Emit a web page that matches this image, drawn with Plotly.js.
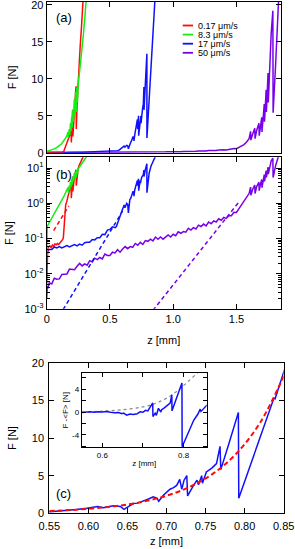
<!DOCTYPE html>
<html>
<head>
<meta charset="utf-8">
<script src="https://cdn.plot.ly/plotly-3.0.1.min.js"></script>
<style>
html,body{margin:0;padding:0;background:#fff;}
#chart{width:295px;height:549px;}
</style>
</head>
<body>
<div id="chart"></div>
<script>
// ---------------- DATA ----------------
const speedLabels = ['0.17 μm/s', '8.3 μm/s', '17 μm/s', '50 μm/s'];

// 0.17 um/s (red)
const redZ = [0, 0.002, 0.004, 0.008, 0.015, 0.025, 0.035, 0.045, 0.055, 0.065, 0.075, 0.085, 0.095, 0.105, 0.115, 0.122, 0.128, 0.132, 0.136, 0.14, 0.145, 0.15, 0.158, 0.165, 0.172, 0.18, 0.185, 0.192, 0.195, 0.2, 0.205, 0.207, 0.213, 0.22, 0.226, 0.232, 0.234, 0.24, 0.248, 0.256, 0.265, 0.275, 0.285, 0.292];
const redF = [0.005, 0.02, 0.04, 0.05, 0.058, 0.062, 0.055, 0.065, 0.06, 0.07, 0.066, 0.072, 0.068, 0.075, 0.08, 0.085, 0.095, 0.11, 0.2, 0.45, 0.7, 0.9, 1.1, 1.4, 1.8, 2.2, 2.5, 3.5, 1.4, 4.0, 5.8, 2.2, 4.5, 6.0, 7.5, 9.0, 3.2, 6.5, 9.5, 12, 14.5, 17, 20, 22];

// 8.3 um/s (green)
const greenZ = [0, 0.0005, 0.001, 0.005, 0.012, 0.02, 0.03, 0.04, 0.05, 0.06, 0.07, 0.08, 0.09, 0.1, 0.11, 0.12, 0.13, 0.14, 0.15, 0.16, 0.168, 0.172, 0.178, 0.183, 0.188, 0.192, 0.197, 0.202, 0.207, 0.212, 0.218, 0.222, 0.228, 0.233, 0.238, 0.243, 0.25, 0.26, 0.27, 0.28, 0.29, 0.3, 0.31, 0.318];
const greenF = [0.03, 0.1, 0.2, 0.22, 0.25, 0.28, 0.33, 0.38, 0.45, 0.52, 0.6, 0.7, 0.82, 0.95, 1.1, 1.25, 1.45, 1.7, 2.0, 2.3, 2.8, 2.0, 3.2, 2.4, 4.0, 2.9, 4.8, 3.4, 5.8, 4.2, 7.2, 5.0, 8.2, 5.5, 8.8, 6.8, 9.5, 11, 12.5, 14, 16, 18, 20, 22];

// 17 um/s (blue)
const blueZ = [0, 0.02, 0.04, 0.06, 0.08, 0.1, 0.12, 0.14, 0.16, 0.18, 0.2, 0.22, 0.24, 0.26, 0.28, 0.3, 0.32, 0.34, 0.36, 0.38, 0.4, 0.42, 0.44, 0.46, 0.48, 0.5, 0.52, 0.54, 0.551, 0.56, 0.572, 0.585, 0.598, 0.607, 0.612, 0.619, 0.626, 0.632, 0.638, 0.641, 0.6456, 0.648, 0.655, 0.6575, 0.663, 0.67, 0.677, 0.683, 0.688, 0.69, 0.696, 0.7045, 0.709, 0.713, 0.717, 0.7195, 0.7225, 0.726, 0.727, 0.733, 0.739, 0.741, 0.745, 0.746, 0.751, 0.758, 0.764, 0.7685, 0.7695, 0.78, 0.792, 0.7925, 0.81, 0.825, 0.8375, 0.839, 0.8495, 0.86];
const blueF = [0.0398, 0.049, 0.049, 0.0575, 0.0537, 0.0589, 0.0537, 0.0596, 0.0631, 0.0575, 0.0617, 0.0668, 0.0617, 0.0692, 0.0646, 0.0759, 0.0776, 0.0776, 0.0933, 0.0912, 0.105, 0.105, 0.132, 0.129, 0.174, 0.182, 0.214, 0.204, 0.22, 0.28, 0.35, 0.5, 0.66, 0.8, 0.9, 0.75, 0.85, 1.0, 0.95, 0.9, 0.53, 0.7, 1.1, 1.3, 1.35, 1.6, 1.9, 2.2, 2.0, 1.6, 2.4, 3.2, 3.4, 3.7, 4.5, 3.2, 4.4, 5.0, 2.3, 3.4, 4.4, 3.8, 5.0, 4.0, 5.5, 6.0, 6.6, 8.9, 5.8, 9.3, 13.4, 2.0, 7.2, 11.6, 15.3, 15.2, 18.9, 22];

// 50 um/s (purple)
const purpleZ = [0, 0.002, 0.005, 0.01, 0.02, 0.04, 0.06, 0.08, 0.1, 0.12, 0.14, 0.16, 0.18, 0.2, 0.22, 0.24, 0.26, 0.28, 0.3, 0.32, 0.34, 0.36, 0.38, 0.4, 0.42, 0.44, 0.46, 0.48, 0.5, 0.52, 0.54, 0.56, 0.58, 0.6, 0.62, 0.64, 0.66, 0.68, 0.7, 0.72, 0.74, 0.76, 0.78, 0.8, 0.82, 0.84, 0.86, 0.88, 0.9, 0.92, 0.94, 0.96, 0.98, 1.0, 1.02, 1.04, 1.06, 1.08, 1.1, 1.12, 1.14, 1.16, 1.18, 1.2, 1.22, 1.24, 1.26, 1.28, 1.3, 1.32, 1.34, 1.36, 1.38, 1.4, 1.42, 1.44, 1.46, 1.48, 1.5, 1.53, 1.56, 1.58, 1.6, 1.612, 1.614, 1.63, 1.645, 1.647, 1.66, 1.678, 1.68, 1.69, 1.7, 1.702, 1.712, 1.72, 1.722, 1.735, 1.737, 1.745, 1.75, 1.752, 1.765, 1.775, 1.788, 1.79, 1.81, 1.83, 1.845];
const purpleF = [0.002, 0.0028, 0.0045, 0.0038, 0.0055, 0.0051, 0.0074, 0.0069, 0.0071, 0.0095, 0.0095, 0.0098, 0.0135, 0.0129, 0.0129, 0.0162, 0.0195, 0.0166, 0.019, 0.0174, 0.0234, 0.0214, 0.0275, 0.0251, 0.0288, 0.0263, 0.0363, 0.0331, 0.0331, 0.0407, 0.0389, 0.0479, 0.0407, 0.0501, 0.0589, 0.0513, 0.0589, 0.0562, 0.0724, 0.0646, 0.0776, 0.0676, 0.0871, 0.0832, 0.0955, 0.0851, 0.11, 0.0955, 0.11, 0.0955, 0.112, 0.126, 0.11, 0.132, 0.12, 0.155, 0.141, 0.158, 0.151, 0.195, 0.174, 0.204, 0.186, 0.24, 0.219, 0.257, 0.229, 0.295, 0.263, 0.316, 0.295, 0.363, 0.331, 0.398, 0.372, 0.447, 0.447, 0.56, 0.55, 0.8, 1.1, 1.45, 1.9, 2.9, 1.7, 2.6, 3.3, 1.9, 3.0, 4.0, 2.3, 3.5, 4.8, 2.8, 5.5, 6.6, 4.2, 8.5, 5.5, 9.5, 10.8, 6.8, 12.5, 16.2, 19.2, 5.4, 12, 20.5, 25];

// exponential fits shown dashed in panel (b)
const fitRedZ = [0.055, 0.08, 0.1, 0.125, 0.15, 0.175];
const fitRedF = [0.168, 0.23, 0.31, 0.43, 0.6, 0.84];
const fitBlueZ = [0.13, 0.25, 0.35, 0.45, 0.55, 0.6];
const fitBlueF = [0.00095, 0.0049, 0.0193, 0.076, 0.30, 0.6];
const fitPurpleZ = [0.84, 1.0, 1.15, 1.3, 1.45, 1.52];
const fitPurpleF = [0.0009, 0.0048, 0.023, 0.11, 0.52, 1.1];

// panel (c): mean force <F> (red dashed)
const fitCZ = [0.55, 0.58, 0.61, 0.64, 0.67, 0.7, 0.73, 0.76, 0.79, 0.82, 0.85];
const fitCF = [0.3, 0.45, 0.68, 1.02, 1.55, 2.33, 3.52, 5.3, 8.0, 12.07, 18.2];

// inset: F - <F>
const insetZ = [0.549, 0.56, 0.57, 0.58, 0.59, 0.6, 0.61, 0.62, 0.63, 0.64, 0.648, 0.652, 0.66, 0.668, 0.676, 0.686, 0.693, 0.7, 0.706, 0.712, 0.717, 0.722, 0.724, 0.7245, 0.73, 0.733, 0.738, 0.744, 0.746, 0.751, 0.758, 0.767, 0.771, 0.7715, 0.785, 0.796, 0.7965, 0.81, 0.825, 0.835, 0.841, 0.843, 0.85, 0.858];
const insetF = [-0.1, 0.0, 0.05, -0.05, 0.05, 0.0, 0.1, -0.05, -0.15, -0.1, -0.3, -0.2, -0.55, -0.35, -0.45, -0.3, 0.05, -0.05, 0.3, 0.2, 0.7, 1.25, 1.6, -0.8, -0.2, -0.6, 0.65, 0.0, 0.4, 0.65, 1.0, 1.55, 3.05, 0.2, 2.9, 5.1, -6.1, -3.9, -1.45, -0.4, 0.5, 0.1, 0.7, 1.25];
const insetDotZ = [0.549, 0.6, 0.65, 0.7, 0.73, 0.76, 0.79, 0.81, 0.835, 0.845];
const insetDotF = [0, 0.15, 0.4, 0.9, 1.5, 2.5, 4.0, 5.3, 6.9, 7.6];

// tick labels
const zTickVals = [0, 0.5, 1, 1.5];
const zTickText = ['0', '0.5', '1.0', '1.5'];
const fTickVals = [0, 5, 10, 15, 20];
const fTickText = ['0', '5', '10', '15', '20'];
const logTickVals = [0.001, 0.01, 0.1, 1, 10];
const logTickText = ['10<sup>-3</sup>', '10<sup>-2</sup>', '10<sup>-1</sup>', '10<sup>0</sup>', '10<sup>1</sup>'];
const insetTickVals = [-4, 0, 4];
const insetTickText = ['-4', '0', '4'];
const logMinorVals = [];
[0.001, 0.01, 0.1, 1, 10].forEach(d => { for (let k = 2; k <= 9; k++) logMinorVals.push(d * k); });

// ---------------- STYLE ----------------
const W = 295, H = 549;
const px = v => v / W;
const py = v => 1 - v / H;
const FONT = 'Liberation Sans, Arial, Helvetica, sans-serif';
const cRed = '#ff0a0a', cGreen = '#12ee12', cBlue = '#1010ff', cPurple = '#7800ea';
const speedColors = [cRed, cGreen, cBlue, cPurple];

function line(x, y, color, xa, ya, extra) {
  return Object.assign({
    x: x, y: y, xaxis: xa, yaxis: ya, type: 'scatter', mode: 'lines',
    line: {color: color, width: 1.5}, showlegend: false, hoverinfo: 'skip'
  }, extra || {});
}

const traces = [];
const series = [[redZ, redF], [greenZ, greenF], [blueZ, blueF], [purpleZ, purpleF]];
// panel (a), linear
[3, 2, 0, 1].forEach(i => traces.push(line(series[i][0], series[i][1], speedColors[i], 'x', 'y')));
// panel (b), log
[3, 2, 0, 1].forEach(i => traces.push(line(series[i][0], series[i][1], speedColors[i], 'x2', 'y2')));
traces.push(line(fitRedZ, fitRedF, cRed, 'x2', 'y2', {line: {color: cRed, width: 1.5, dash: '4px,3px'}}));
traces.push(line(fitBlueZ, fitBlueF, cBlue, 'x2', 'y2', {line: {color: cBlue, width: 1.5, dash: '4px,3px'}}));
traces.push(line(fitPurpleZ, fitPurpleF, cPurple, 'x2', 'y2', {line: {color: cPurple, width: 1.5, dash: '4px,3px'}}));
// panel (c)
traces.push(line(blueZ, blueF, cBlue, 'x3', 'y3'));
traces.push(line(fitCZ, fitCF, cRed, 'x3', 'y3', {line: {color: cRed, width: 2, dash: '5px,3px', shape: 'spline'}}));
// inset
traces.push(line(insetDotZ, insetDotF, '#888', 'x4', 'y4', {line: {color: '#8a8a8a', width: 1.2, dash: 'dot', shape: 'spline'}}));
traces.push(line(insetZ, insetF, cBlue, 'x4', 'y4'));

const axBase = {
  showline: true, linecolor: '#000', linewidth: 1, mirror: 'allticks',
  ticks: 'inside', ticklen: 5, tickwidth: 1, tickcolor: '#000',
  showgrid: false, zeroline: false, fixedrange: true, automargin: false,
  ticklabeloverflow: 'allow',
  tickfont: {family: FONT, size: 11, color: '#000'}
};
const ax = o => Object.assign({}, axBase, o);

const titleFont = {family: FONT, size: 11, color: '#000'};
const smallFont = {family: FONT, size: 8, color: '#000'};

const layout = {
  width: W, height: H,
  margin: {l: 0, r: 0, t: 0, b: 0},
  paper_bgcolor: '#fff', plot_bgcolor: 'rgba(0,0,0,0)',
  font: {family: FONT, color: '#000'},
  showlegend: false,
  xaxis: ax({domain: [px(46.7), px(280.7)], range: [0, 1.85], anchor: 'y', tickvals: zTickVals, showticklabels: false}),
  yaxis: ax({domain: [py(152.7), py(2)], range: [0, 20.4], anchor: 'x', tickmode: 'array', tickvals: fTickVals, ticktext: fTickText,
    title: {text: 'F [N]', font: titleFont, standoff: 12}}),
  xaxis2: ax({domain: [px(46.7), px(280.7)], range: [0, 1.85], anchor: 'y2', tickmode: 'array', tickvals: zTickVals, ticktext: zTickText,
    title: {text: 'z [mm]', font: titleFont, standoff: 12}}),
  yaxis2: ax({domain: [py(308.8), py(157.3)], type: 'log', range: [-3, 1.31], anchor: 'x2',
    tickmode: 'array', tickvals: logTickVals, ticktext: logTickText,
    minor: {tickmode: 'array', tickvals: logMinorVals, ticks: 'inside', ticklen: 3, tickcolor: '#000'},
    title: {text: 'F [N]', font: titleFont, standoff: 8}}),
  xaxis3: ax({domain: [px(49.3), px(283.7)], range: [0.55, 0.85], anchor: 'y3', tick0: 0.55, dtick: 0.05, tickformat: '.2f',
    ticklabelstandoff: 2,
    title: {text: 'z [mm]', font: titleFont, standoff: 6}}),
  yaxis3: ax({domain: [py(513.3), py(362.7)], range: [0, 20], anchor: 'x3', tickmode: 'array', tickvals: fTickVals, ticktext: fTickText,
    ticklabelstandoff: 2,
    title: {text: 'F [N]', font: titleFont, standoff: 12}}),
  xaxis4: ax({domain: [px(81.7), px(206.7)], range: [0.549, 0.857], anchor: 'y4', tick0: 0.6, dtick: 0.2, tickformat: '.1f',
    ticklen: 4, tickfont: smallFont,
    minor: {dtick: 0.1, tick0: 0.6, ticks: 'inside', ticklen: 4, tickcolor: '#000'},
    title: {text: 'z [mm]', font: smallFont, standoff: 1}}),
  yaxis4: ax({domain: [py(447.3), py(373.3)], range: [-6.2, 6.8], anchor: 'x4', tickmode: 'array', tickvals: insetTickVals, ticktext: insetTickText,
    ticklen: 4, tickfont: smallFont,
    minor: {tickmode: 'array', tickvals: [-6, -2, 2, 6], ticks: 'inside', ticklen: 4, tickcolor: '#000'},
    title: {text: 'F -&lt;F&gt; [N]', font: smallFont, standoff: 2}}),
  shapes: [
    {type: 'rect', xref: 'paper', yref: 'paper', x0: px(81.7), x1: px(206.7), y0: py(447.3), y1: py(373.3),
      fillcolor: '#fff', line: {width: 0}, layer: 'below'}
  ],
  annotations: [
    {text: '(a)', xref: 'paper', yref: 'paper', x: px(63.5), y: py(17), showarrow: false, xanchor: 'center', yanchor: 'middle', font: {family: FONT, size: 13, color: '#000'}},
    {text: '(b)', xref: 'paper', yref: 'paper', x: px(63.5), y: py(174), showarrow: false, xanchor: 'center', yanchor: 'middle', font: {family: FONT, size: 13, color: '#000'}},
    {text: '(c)', xref: 'paper', yref: 'paper', x: px(63.5), y: py(493.3), showarrow: false, xanchor: 'center', yanchor: 'middle', font: {family: FONT, size: 13, color: '#000'}}
  ]
};

// hand-placed legend inside panel (a)
const legendRows = [25.5, 34.6, 43.7, 52.8];
speedLabels.forEach((lab, i) => {
  layout.shapes.push({type: 'line', xref: 'paper', yref: 'paper', x0: px(182.7), x1: px(193), y0: py(legendRows[i]), y1: py(legendRows[i]),
    line: {color: speedColors[i], width: 1.8}});
  layout.annotations.push({text: lab, xref: 'paper', yref: 'paper', x: px(196.5), y: py(legendRows[i]), showarrow: false,
    xanchor: 'left', yanchor: 'middle', borderpad: 0, font: {family: FONT, size: 9, color: '#000'}});
});

Plotly.newPlot('chart', traces, layout, {displayModeBar: false, staticPlot: true});
</script>
</body>
</html>
